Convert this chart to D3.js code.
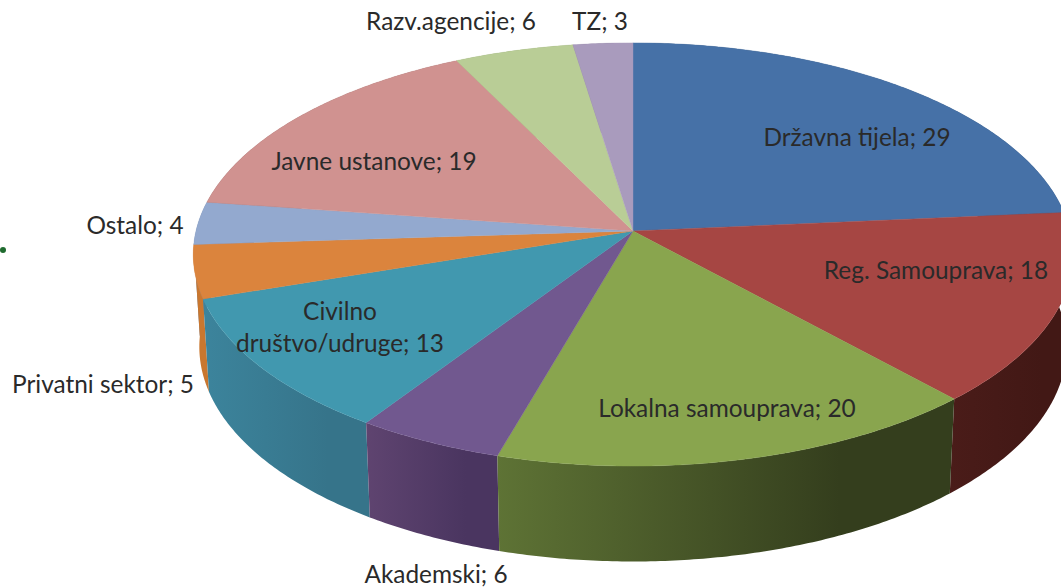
<!DOCTYPE html>
<html><head><meta charset="utf-8">
<style>html,body{margin:0;padding:0;background:#fff;overflow:hidden}svg{display:block}</style>
<script src="https://cdn.jsdelivr.net/npm/d3@7/dist/d3.min.js"></script>
</head><body><svg id="c" width="1061" height="588"></svg>
<script>
const categories = ["Državna tijela","Reg. Samouprava","Lokalna samouprava","Akademski","Civilno društvo/udruge","Privatni sektor","Ostalo","Javne ustanove","Razv.agencije","TZ"];
const values = [29,18,20,6,13,5,4,19,6,3];
const topColors = ["#4671a7","#a64643","#89a54e","#71588f","#4198af","#db843d","#93a9cf","#d09290","#b9cd96","#a99bbd"];
const sideLeft = ["#2f4d72","#4a1c19","#5e7335","#5f4470","#3c849c","#c9772f","#6f83a3","#8f6563","#86976a","#75698a"];
const sideRight = ["#2f4d72","#421815","#343e1d","#4a3560","#36748a","#c9772f","#6f83a3","#8f6563","#86976a","#75698a"];
const labelLines = [["Državna tijela; 29"],["Reg. Samouprava; 18"],["Lokalna samouprava; 20"],["Akademski; 6"],["Civilno","društvo/udruge; 13"],["Privatni sektor; 5"],["Ostalo; 4"],["Javne ustanove; 19"],["Razv.agencije; 6"],["TZ; 3"]];

const labelAt = [[857,146],[936,279],[727,417],[436,583],[340,320],[103,393],[135,234],[374,170],[451,30],[600,30]];
const svg = d3.select("#c");
const k = 0.111;
const xTop = d3.scaleLinear().domain([0,1]).range([633,633+437]);
const yTop = d3.scaleLinear().domain([0,1]).range([231,231-209]);
const xBot = d3.scaleLinear().domain([0,1]).range([633,633+431]);
const yBot = d3.scaleLinear().domain([0,1]).range([323,323-212]);
const proj = (a,xs,ys)=>{const u=Math.sin(a),v=Math.cos(a),d=1+k*v;return [xs(u/d),ys(v/d)];};
const line = d3.line();
const arcs = d3.pie().sort(null).value(d=>d)(values);
const arcPts = (a0,a1,xs,ys)=>{const n=Math.max(2,Math.ceil((a1-a0)/0.01));return d3.range(n+1).map(i=>proj(a0+(a1-a0)*i/n,xs,ys));};

const defs = svg.append("defs");
// Sides, far slices first
const sideOrder = arcs.map((d,i)=>i).sort((a,b)=>Math.cos((arcs[b].startAngle+arcs[b].endAngle)/2)-Math.cos((arcs[a].startAngle+arcs[a].endAngle)/2));
sideOrder.forEach(i=>{
  const d = arcs[i];
  const t = arcPts(d.startAngle,d.endAngle,xTop,yTop), b = arcPts(d.startAngle,d.endAngle,xBot,yBot).reverse();
  const pts = t.concat(b);
  const ext = d3.extent(pts,p=>p[0]);
  const g = defs.append("linearGradient").attr("id","s"+i).attr("gradientUnits","userSpaceOnUse")
    .attr("x1",ext[0]).attr("x2",ext[1]).attr("y1",0).attr("y2",0);
  g.append("stop").attr("offset",0).attr("stop-color",sideLeft[i]);
  g.append("stop").attr("offset",0.75).attr("stop-color",sideRight[i]);
  svg.append("path").attr("d",line(pts)+"Z").attr("fill",`url(#s${i})`);
});
// Top faces
arcs.forEach((d,i)=>{
  const pts = [[xTop(0),yTop(0)]].concat(arcPts(d.startAngle,d.endAngle,xTop,yTop));
  svg.append("path").attr("d",line(pts)+"Z").attr("fill",topColors[i]).attr("stroke",topColors[i]).attr("stroke-width",0.4);
});
// Labels
labelLines.forEach((ls,i)=>{
  ls.forEach((s,j)=>{
    svg.append("text").attr("x",labelAt[i][0]).attr("y",labelAt[i][1]+j*32).attr("text-anchor","middle")
      .attr("font-family","Lato, 'Open Sans', sans-serif").attr("font-size",24.4).attr("fill","#2a2a2a").text(s);
  });
});
svg.append("circle").attr("cx",3).attr("cy",250).attr("r",3).attr("fill","#1f6b2e");
</script></body></html>
